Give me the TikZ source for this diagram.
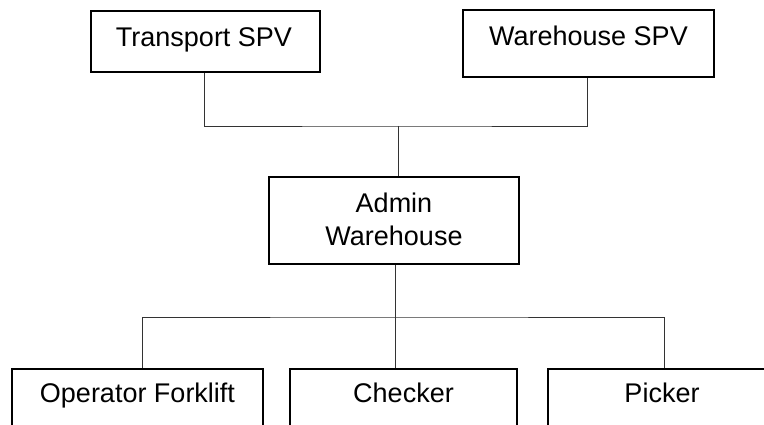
\documentclass[tikz,border=0pt]{standalone}
\usepackage{fontspec}
\setmainfont{Liberation Sans}
\begin{document}
\begin{tikzpicture}[x=1pt,y=1pt,
  box/.style={draw=black, line width=1.7pt, fill=white, inner sep=0pt},
  lbl/.style={inner sep=0pt, anchor=base, align=center, font=\fontsize{27}{32.5}\selectfont},
  link/.style={draw=black!80, line width=0.9pt}]
\useasboundingbox (0,0) rectangle (764,-425);
\clip (0,0) rectangle (764,-425);
\node[box, minimum width=229pt, minimum height=61pt] (T) at (205.5,-41.5) {};
\node[box, minimum width=251pt, minimum height=67pt] (W) at (588.5,-43.5) {};
\node[box, minimum width=250pt, minimum height=87pt] (A) at (394,-220.5) {};
\node[box, minimum width=251pt, minimum height=62pt, anchor=north] (O) at (137.5,-368) {};
\node[box, minimum width=227pt, minimum height=62pt, anchor=north] (C) at (403.5,-368) {};
\node[box, minimum width=228pt, minimum height=62pt, anchor=north] (P) at (662,-368) {};
\node[lbl] (Tt) at (204,-47) {Transport SPV};
\node[lbl] (Wt) at (588.5,-45.5) {Warehouse SPV};
\node[lbl] (At1) at (394,-213) {Admin};
\node[lbl] (At2) at (394,-245.5) {Warehouse};
\node[lbl] (Ot) at (137.5,-402.5) {Operator Forklift};
\node[lbl] (Ct) at (403.5,-402.5) {Checker};
\node[lbl] (Pt) at (662,-402.5) {Picker};
\coordinate (j1) at (398,-126);
\coordinate (j2) at (395,-317);
\draw[link] ([xshift=-1.5pt]T.south) |- (j1) -| ([xshift=-1.5pt]W.south);
\draw[link] (j1) -- (A.north -| j1);
\draw[link] (A.south -| j2) -- (C.north -| j2);
\draw[link] ([xshift=4.5pt]O.north) |- (j2) -| ([xshift=2pt]P.north);
\end{tikzpicture}
\end{document}
